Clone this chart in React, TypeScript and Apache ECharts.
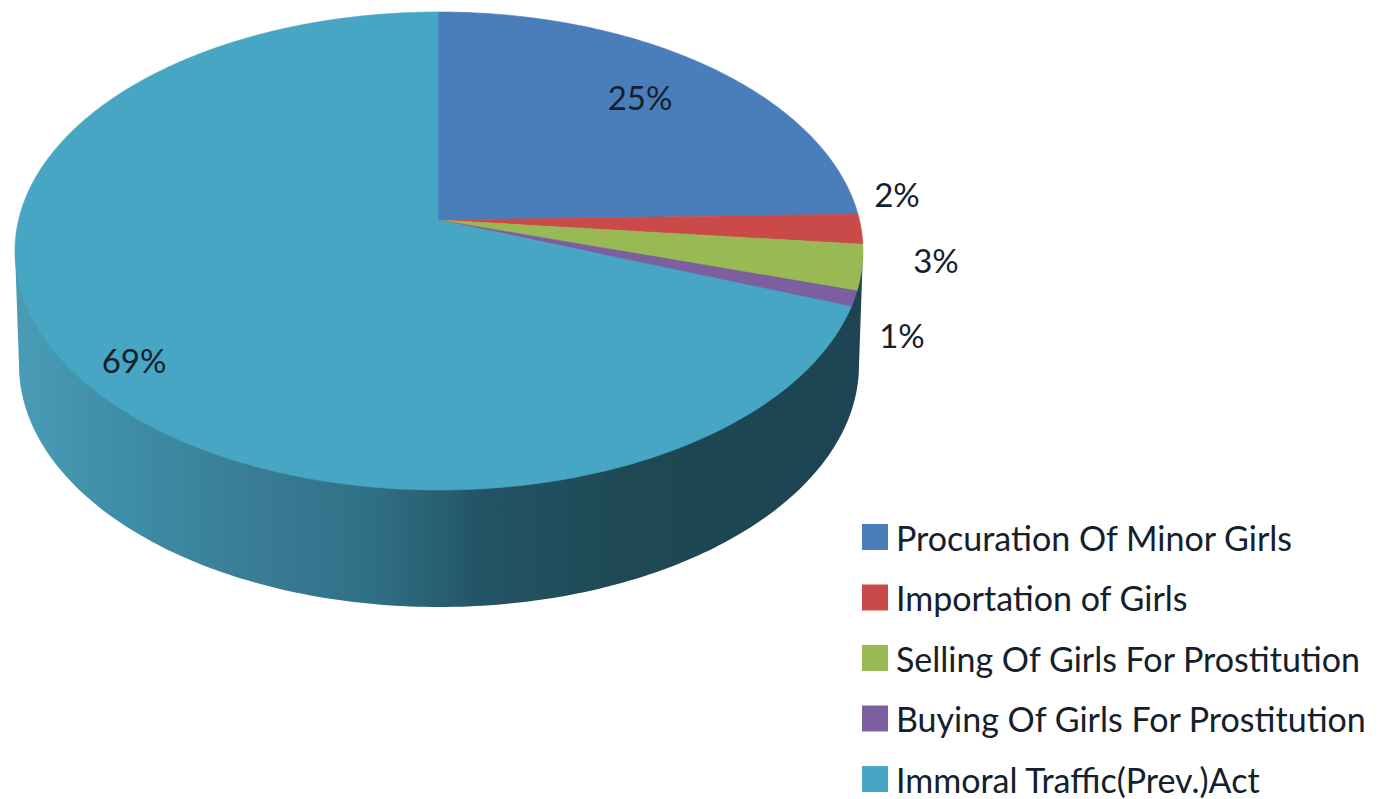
import React, { useEffect, useRef } from "react";
import * as echarts from "echarts";

const categories = [
  "Procuration Of Minor Girls",
  "Importation of Girls",
  "Selling Of Girls For Prostitution",
  "Buying Of Girls For Prostitution",
  "Immoral Traffic(Prev.)Act",
];
const values = [25, 2, 3, 1, 69];
const colors = ["#4a7ebb", "#c94a48", "#98b954", "#7d5fa0", "#46a6c4"];
const labelPositions: [number, number][] = [
  [640, 97],
  [897, 194],
  [936, 260],
  [902, 335],
  [134, 360],
];

const TOP = { cx: 439, cy: 251, rx: 424, ry: 239, ax: 438, ay: 220, shear: 0.014 };
const BOTTOM = { cx: 439, cy: 365, rx: 420, ry: 242 };
const FONT = "Lato, 'Open Sans', sans-serif";
const total = values.reduce((a, b) => a + b, 0);

function rim(fraction: number): [number, number] {
  const t = fraction * Math.PI * 2;
  const dx = Math.sin(t) * TOP.rx;
  const dy = -Math.cos(t) * TOP.ry - TOP.shear * Math.max(0, Math.sin(t) * TOP.rx);
  const ox = (TOP.ax - TOP.cx) / TOP.rx;
  const oy = (TOP.ay - TOP.cy) / TOP.ry;
  const ux = dx / TOP.rx;
  const uy = dy / TOP.ry;
  const a = ux * ux + uy * uy;
  const b = 2 * (ox * ux + oy * uy);
  const c = ox * ox + oy * oy - 1;
  const k = (-b + Math.sqrt(b * b - 4 * a * c)) / (2 * a);
  return [TOP.ax + dx * k, TOP.ay + dy * k];
}

function sliceItem(index: number) {
  return (_p: any, api: any) => {
    const v = api.value(0) as number;
    const start = api.value(1) as number;
    const pts: [number, number][] = [[TOP.ax, TOP.ay]];
    const steps = Math.max(6, Math.ceil(v * 6));
    for (let i = 0; i <= steps; i++) {
      pts.push(rim((start + (v * i) / steps) / total));
    }
    const [lx, ly] = labelPositions[index];
    return {
      type: "group",
      children: [
        {
          type: "polygon",
          shape: { points: pts },
          style: { fill: colors[index], stroke: colors[index], lineWidth: 0.6 },
        },
        {
          type: "text",
          z2: 10,
          style: {
            text: `${v}%`,
            x: lx,
            y: ly,
            align: "center",
            verticalAlign: "middle",
            fill: "#14202b",
            font: `33px ${FONT}`,
          },
        },
      ],
    };
  };
}

function sideItem() {
  const pts: [number, number][] = [[TOP.cx - TOP.rx, TOP.cy]];
  for (let i = 0; i <= 180; i++) {
    const t = Math.PI - (i / 180) * Math.PI;
    pts.push([BOTTOM.cx + BOTTOM.rx * Math.cos(t), BOTTOM.cy + BOTTOM.ry * Math.sin(t)]);
  }
  pts.push([TOP.cx + TOP.rx, TOP.cy]);
  return {
    type: "polygon",
    shape: { points: pts },
    style: {
      fill: new echarts.graphic.LinearGradient(0, 0, 1, 0, [
        { offset: 0, color: "#4a9cb6" },
        { offset: 0.12, color: "#3f8ea8" },
        { offset: 0.3, color: "#387b92" },
        { offset: 0.42, color: "#2f7086" },
        { offset: 0.55, color: "#235465" },
        { offset: 0.72, color: "#1f4855" },
        { offset: 1, color: "#1c4452" },
      ]),
    },
  };
}

export default function App() {
  const ref = useRef<HTMLDivElement>(null);
  useEffect(() => {
    const chart = echarts.init(ref.current!, undefined, { renderer: "svg" });
    let cum = 0;
    const sliceSeries = categories.map((name, i) => {
      const s = {
        type: "custom",
        name,
        coordinateSystem: "none",
        itemStyle: { color: colors[i] },
        renderItem: sliceItem(i),
        data: [[values[i], cum]],
        z: 3,
      };
      cum += values[i];
      return s;
    });
    chart.setOption({
      animation: false,
      backgroundColor: "#ffffff",
      legend: {
        data: categories,
        orient: "vertical",
        left: 862,
        top: 520,
        padding: 0,
        icon: "rect",
        itemWidth: 26,
        itemHeight: 26,
        itemGap: 26.5,
        textStyle: { fontFamily: FONT, fontSize: 34, color: "#14202b", padding: [0, 0, 0, 3] },
      },
      series: [
        {
          type: "custom",
          name: "side",
          coordinateSystem: "none",
          renderItem: sideItem,
          data: [[total]],
          z: 2,
        },
        ...sliceSeries,
      ],
    });
    return () => chart.dispose();
  }, []);
  return <div ref={ref} style={{ position: "fixed", left: 0, top: 0, width: 1384, height: 799 }} />;
}
